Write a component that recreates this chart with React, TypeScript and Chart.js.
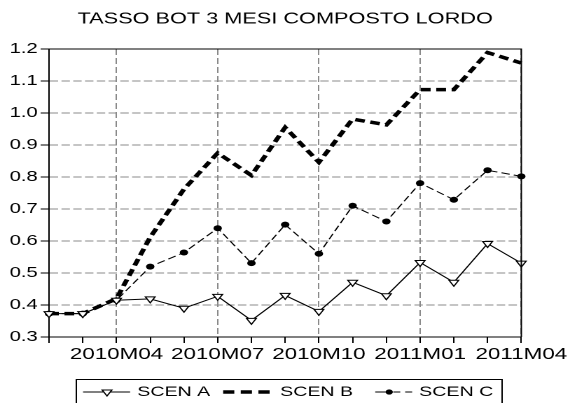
import React, { useEffect, useRef } from 'react';
import { Chart, registerables } from 'chart.js';

Chart.register(...registerables);

// ---------------- data ----------------
const TITLE = 'TASSO BOT 3 MESI COMPOSTO LORDO';
const months = [
  '2010M02', '2010M03', '2010M04', '2010M05', '2010M06', '2010M07', '2010M08',
  '2010M09', '2010M10', '2010M11', '2010M12', '2011M01', '2011M02', '2011M03', '2011M04',
];
const labelledMonths = ['2010M04', '2010M07', '2010M10', '2011M01', '2011M04'];
const seriesNames = ['SCEN A', 'SCEN B', 'SCEN C'];
const scenA = [0.373, 0.373, 0.415, 0.419, 0.39, 0.427, 0.352, 0.43, 0.38, 0.471, 0.429, 0.533, 0.471, 0.592, 0.531];
const scenB = [0.373, 0.373, 0.42, 0.612, 0.762, 0.875, 0.805, 0.955, 0.846, 0.981, 0.963, 1.073, 1.073, 1.189, 1.156];
const scenC = [0.373, 0.373, 0.415, 0.52, 0.564, 0.64, 0.531, 0.651, 0.56, 0.71, 0.661, 0.781, 0.729, 0.821, 0.802];
const yMin = 0.3;
const yMax = 1.2;
const yStep = 0.1;

// ---------------- look ----------------
const W = 407;
const H = 403;
const SX = 570 / W;
const FONT = "'Liberation Sans', Arial, Helvetica, sans-serif";
const GRID = '#8a8a8a';
const CLEAR = 'rgba(0,0,0,0)';

const frameAndLegend = {
  id: 'frameAndLegend',
  afterDatasetsDraw(chart: any) {
    const { ctx, chartArea } = chart;
    ctx.save();
    ctx.strokeStyle = '#000';
    ctx.lineWidth = 1;
    ctx.setLineDash([]);
    ctx.beginPath();
    ctx.moveTo(chartArea.left, chartArea.top);
    ctx.lineTo(chartArea.right, chartArea.top);
    ctx.lineTo(chartArea.right, chartArea.bottom);
    ctx.stroke();
    ctx.restore();
  },
  afterDraw(chart: any) {
    const ctx = chart.ctx;
    ctx.save();
    ctx.strokeStyle = '#000';
    ctx.fillStyle = '#000';
    ctx.lineWidth = 1;
    ctx.setLineDash([]);
    // legend box
    ctx.beginPath();
    ctx.moveTo(54.5, 420);
    ctx.lineTo(54.5, 379.5);
    ctx.lineTo(358.5, 379.5);
    ctx.lineTo(358.5, 420);
    ctx.stroke();

    const yc = 392;
    ctx.font = `14px ${FONT}`;
    ctx.textBaseline = 'middle';
    ctx.textAlign = 'left';

    // SCEN A
    ctx.beginPath();
    ctx.moveTo(59.3, yc);
    ctx.lineTo(92.9, yc);
    ctx.stroke();
    ctx.beginPath();
    const tx = 76.4, r = 4;
    ctx.moveTo(tx - r * 0.866, yc - r * 0.5);
    ctx.lineTo(tx + r * 0.866, yc - r * 0.5);
    ctx.lineTo(tx, yc + r);
    ctx.closePath();
    ctx.fillStyle = '#fff';
    ctx.fill();
    ctx.stroke();
    ctx.fillStyle = '#000';
    ctx.fillText(seriesNames[0], 98, yc);

    // SCEN B
    ctx.save();
    ctx.lineWidth = 3.5;
    ctx.setLineDash([8, 4.6]);
    ctx.beginPath();
    ctx.moveTo(159.3, yc);
    ctx.lineTo(192.9, yc);
    ctx.stroke();
    ctx.restore();
    ctx.fillText(seriesNames[1], 200, yc);

    // SCEN C
    ctx.save();
    ctx.setLineDash([7.9, 5, 5, 3.5]);
    ctx.beginPath();
    ctx.moveTo(267.9, yc);
    ctx.lineTo(294.3, yc);
    ctx.stroke();
    ctx.restore();
    ctx.beginPath();
    ctx.arc(277.9, yc, 2.6, 0, Math.PI * 2);
    ctx.fill();
    ctx.fillText(seriesNames[2], 299.3, yc);
    ctx.restore();
  },
};

export default function App() {
  const ref = useRef<HTMLCanvasElement>(null);

  useEffect(() => {
    if (!ref.current) return;
    const chart = new Chart(ref.current, {
      type: 'line',
      data: {
        labels: months,
        datasets: [
          {
            label: seriesNames[0],
            data: scenA,
            borderColor: '#000',
            borderWidth: 1,
            pointStyle: 'triangle',
            rotation: 180,
            pointRadius: 4,
            pointBackgroundColor: '#fff',
            pointBorderColor: '#000',
            pointBorderWidth: 1,
            tension: 0,
          },
          {
            label: seriesNames[1],
            data: scenB,
            borderColor: '#000',
            borderWidth: 3.5,
            borderDash: [7, 4],
            pointRadius: 0,
            tension: 0,
          },
          {
            label: seriesNames[2],
            data: scenC,
            borderColor: '#000',
            borderWidth: 1,
            borderDash: [6, 3],
            pointStyle: 'circle',
            pointRadius: 3,
            pointBackgroundColor: '#000',
            pointBorderColor: '#000',
            pointBorderWidth: 0,
            tension: 0,
          },
        ],
      },
      options: {
        responsive: false,
        animation: false,
        devicePixelRatio: 2,
        layout: { padding: { left: 0, right: 30, top: 0, bottom: 41 } },
        plugins: {
          legend: { display: false },
          tooltip: { enabled: false },
          title: {
            display: true,
            text: TITLE,
            color: '#000',
            fullSize: false,
            font: { family: FONT, size: 15.5, weight: 'normal' },
            padding: { top: 10, bottom: 20.4 },
          },
        },
        scales: {
          x: {
            type: 'category',
            offset: false,
            grid: {
              color: (c: any) => (c.tick && c.tick.label ? GRID : CLEAR),
              tickColor: '#000',
              tickLength: 6,
              tickBorderDash: [],
              lineWidth: 1,
            },
            border: { color: '#000', width: 1, dash: [6, 3] },
            ticks: {
              autoSkip: false,
              maxRotation: 0,
              minRotation: 0,
              padding: 2,
              color: '#000',
              font: { family: FONT, size: 16 },
              callback: (_v: any, i: number) => (labelledMonths.includes(months[i]) ? months[i] : ''),
            },
            afterFit: (s: any) => {
              s.height = 25;
            },
          },
          y: {
            min: yMin,
            max: yMax,
            grid: {
              color: (c: any) =>
                c.tick && (c.tick.value <= yMin + 1e-6 || c.tick.value >= yMax - 1e-6) ? CLEAR : GRID,
              tickColor: '#000',
              tickLength: 6,
              tickBorderDash: [],
              lineWidth: 1,
            },
            border: { color: '#000', width: 1, dash: [6, 2.4] },
            ticks: {
              stepSize: yStep,
              padding: 2,
              color: '#000',
              font: { family: FONT, size: 14.5 },
              callback: (v: any) => Number(v).toFixed(1),
            },
            afterFit: (s: any) => {
              s.width = 35;
            },
          },
        },
      },
      plugins: [frameAndLegend],
    });
    return () => chart.destroy();
  }, []);

  return (
    <div
      style={{
        position: 'absolute',
        left: 0,
        top: 0,
        width: 570,
        height: 403,
        overflow: 'hidden',
        background: '#fff',
      }}
    >
      <div style={{ width: W, height: H, transform: `scaleX(${SX})`, transformOrigin: '0 0' }}>
        <canvas ref={ref} width={W} height={H} style={{ width: W, height: H, display: 'block' }} />
      </div>
    </div>
  );
}
